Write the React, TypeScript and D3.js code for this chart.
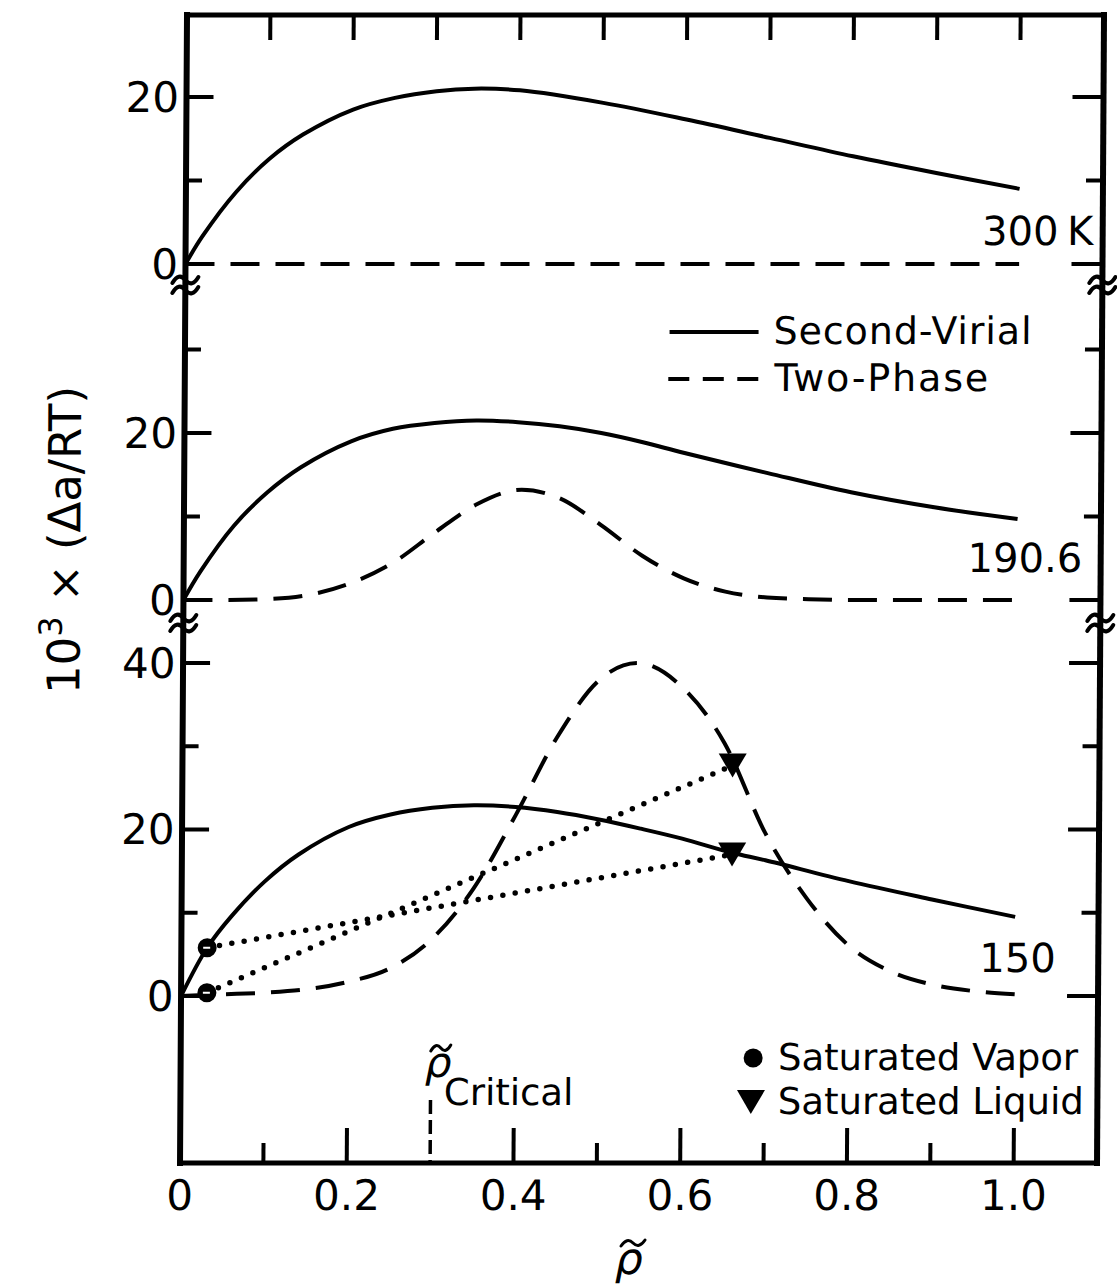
import React from "react";
import * as d3 from "d3";

const FONT = "'DejaVu Sans', sans-serif";

// ---- x axis ----
const xTopTicks = [0.1, 0.2, 0.3, 0.4, 0.5, 0.6, 0.7, 0.8, 0.9, 1.0];
const xBottomMinor = [0.1, 0.5, 0.7, 0.9];
const xBottomMajor = [0.2, 0.4, 0.6, 0.8, 1.0];
const xLabelValues = [0, 0.2, 0.4, 0.6, 0.8, 1.0];
const xLabelTexts = ["0", "0.2", "0.4", "0.6", "0.8", "1.0"];
const rhoCritical = 0.3;

// ---- 300 K ----
const rho300 = [0, 0.02, 0.06, 0.1, 0.14, 0.2, 0.25, 0.3, 0.345, 0.4, 0.5, 0.6, 0.7, 0.8, 0.9, 1.0];
const virial300 = [0, 3.3, 8.6, 12.6, 15.5, 18.5, 19.9, 20.7, 21.0, 20.8, 19.3, 17.3, 15.1, 12.9, 10.9, 9.0];
const twoPhase300Rho = [0, 1.0];
const twoPhase300 = [0, 0];

// ---- 190.6 K ----
const rho190 = [0, 0.02, 0.06, 0.1, 0.14, 0.2, 0.25, 0.3, 0.35, 0.4, 0.45, 0.5, 0.55, 0.6, 0.7, 0.8, 0.9, 1.0];
const virial190 = [0, 3.4, 8.9, 12.9, 15.9, 19.0, 20.5, 21.2, 21.5, 21.3, 20.8, 20.0, 18.9, 17.6, 15.2, 12.9, 11.1, 9.7];
const twoPhase190Rho = [0, 0.05, 0.1, 0.15, 0.2, 0.25, 0.3, 0.35, 0.405, 0.45, 0.5, 0.55, 0.6, 0.65, 0.7, 0.75, 0.8, 0.9, 1.0];
const twoPhase190 = [0, 0, 0.1, 0.6, 2.0, 4.4, 8.0, 11.4, 13.2, 12.2, 9.0, 5.3, 2.6, 1.0, 0.3, 0.1, 0, 0, 0];

// ---- 150 K ----
const rho150 = [0, 0.031, 0.06, 0.1, 0.14, 0.2, 0.25, 0.3, 0.35, 0.4, 0.45, 0.5, 0.55, 0.6, 0.66, 0.7, 0.8, 0.9, 1.0];
const virial150 = [0, 5.8, 9.6, 13.8, 17.0, 20.3, 21.8, 22.6, 22.9, 22.7, 22.1, 21.2, 20.1, 18.9, 17.2, 16.3, 13.8, 11.6, 9.5];
const twoPhase150Rho = [0, 0.05, 0.1, 0.15, 0.2, 0.25, 0.3, 0.35, 0.4, 0.45, 0.5, 0.545, 0.6, 0.65, 0.7, 0.75, 0.8, 0.85, 0.9, 0.95, 1.0];
const twoPhase150 = [0, 0.2, 0.4, 0.8, 1.7, 3.3, 6.8, 12.9, 21.7, 31.2, 38.0, 40.0, 37.0, 30.4, 19.5, 11.7, 6.1, 3.0, 1.4, 0.6, 0.2];

// saturated states at 150 K
const satVaporRho = [0.031, 0.031];
const satVaporVal = [5.8, 0.4];
const satLiquidRho = [0.66, 0.66];
const satLiquidVal = [17.0, 27.7];

// ---- y ticks per panel ----
const topTicks = [0, 10, 20];
const topLabels = [0, 20];
const midTicks = [0, 10, 20, 30];
const midLabels = [0, 20];
const botTicks = [0, 10, 20, 30, 40];
const botLabels = [0, 20, 40];

export default function App() {
  const x = d3.scaleLinear().domain([0, 1.1]).range([183.5, 1100.5]);
  const yTop = d3.scaleLinear().domain([0, 20]).range([264, 97]);
  const yMid = d3.scaleLinear().domain([0, 20]).range([600, 433]);
  const yBot = d3.scaleLinear().domain([0, 40]).range([996, 663]);
  const plotTop = 15;
  const plotBottom = 1163;
  const left = x(0);
  const right = x(1.1);

  const path = (
    xs: number[],
    vs: number[],
    ys: d3.ScaleLinear<number, number>,
    curve: d3.CurveFactory
  ) =>
    d3
      .line<[number, number]>()
      .x((d) => x(d[0]))
      .y((d) => ys(d[1]))
      .curve(curve)(d3.zip(xs, vs) as [number, number][]) || "";

  const smooth = d3.curveCatmullRom.alpha(0.5);
  const mono = d3.curveMonotoneX;

  const dash = "29,16";
  const curveW = 4;

  const yTicks = (ticks: number[], ys: d3.ScaleLinear<number, number>) =>
    ticks.map((t) => {
      const major = t % 20 === 0;
      return (
        <g key={"t" + t + ys(t)}>
          <line x1={left} x2={left + (major ? 27 : 16)} y1={ys(t)} y2={ys(t)} stroke="#000" strokeWidth={4} />
          <line x1={right} x2={right - (major ? 31 : 17)} y1={ys(t)} y2={ys(t)} stroke="#000" strokeWidth={4} />
        </g>
      );
    });

  const yLabels = (labels: number[], ys: d3.ScaleLinear<number, number>) =>
    labels.map((t) => (
      <text key={"l" + t + ys(t)} x={176} y={ys(t) + 15} textAnchor="end" fontSize={42} fontFamily={FONT}>
        {t}
      </text>
    ));

  const brk = (cx: number, cy: number, k: string) => (
    <g key={k} fill="none" stroke="#000" strokeWidth={4} strokeLinecap="round">
      <path d={`M${cx - 13},${cy - 2} Q${cx - 6.5},${cy - 13} ${cx},${cy - 5} T${cx + 13},${cy - 8}`} />
      <path d={`M${cx - 13},${cy + 8} Q${cx - 6.5},${cy - 3} ${cx},${cy + 5} T${cx + 13},${cy + 2}`} />
    </g>
  );

  const tri = (cx: number, cy: number, k: string) => (
    <path key={k} d={`M${cx - 14},${cy - 12} L${cx + 14},${cy - 12} L${cx},${cy + 12} Z`} fill="#000" />
  );

  const tilde = (x0: number, y0: number, w: number) =>
    `M${x0},${y0 + 3} Q${x0 + w * 0.25},${y0 - 6} ${x0 + w * 0.5},${y0} T${x0 + w},${y0 - 3}`;

  return (
    <svg
      width={1117}
      height={1286}
      style={{ position: "absolute", left: 0, top: 0, background: "#fff" }}
    >
      <rect width={1117} height={1286} fill="#fff" />
      <g transform="translate(3.6,0) skewX(-0.349)">
        {/* frame */}
        <g stroke="#000" strokeLinecap="square">
          <line x1={left} x2={right} y1={plotTop} y2={plotTop} strokeWidth={5} />
          <line x1={left} x2={right} y1={plotBottom} y2={plotBottom} strokeWidth={5} />
          <line x1={left} x2={left} y1={plotTop} y2={plotBottom} strokeWidth={6} />
          <line x1={right} x2={right} y1={plotTop} y2={plotBottom} strokeWidth={6} />
        </g>

        {/* x ticks */}
        {xTopTicks.map((t) => (
          <line key={"xt" + t} x1={x(t)} x2={x(t)} y1={plotTop} y2={plotTop + 25} stroke="#000" strokeWidth={4} />
        ))}
        {xBottomMinor.map((t) => (
          <line key={"xm" + t} x1={x(t)} x2={x(t)} y1={plotBottom} y2={plotBottom - 20} stroke="#000" strokeWidth={4} />
        ))}
        {xBottomMajor.map((t) => (
          <line key={"xM" + t} x1={x(t)} x2={x(t)} y1={plotBottom} y2={plotBottom - 35} stroke="#000" strokeWidth={4} />
        ))}
        {xLabelValues.map((v, i) => (
          <text key={"xl" + v} x={x(v)} y={1210} textAnchor="middle" fontSize={42} fontFamily={FONT}>
            {xLabelTexts[i]}
          </text>
        ))}

        {/* critical density marker */}
        <line
          x1={x(rhoCritical)}
          x2={x(rhoCritical)}
          y1={1100}
          y2={plotBottom}
          stroke="#000"
          strokeWidth={3.5}
          strokeDasharray="14,6"
        />
        <path d={tilde(x(rhoCritical), 1048, 20)} fill="none" stroke="#000" strokeWidth={3} strokeLinecap="round" />
        <text x={x(rhoCritical) - 6} y={1077} fontSize={42} fontStyle="italic" fontFamily={FONT}>
          ρ
        </text>
        <text x={447} y={1105} fontSize={37} fontFamily={FONT}>
          Critical
        </text>

        {/* y ticks and labels */}
        {yTicks(topTicks, yTop)}
        {yTicks(midTicks, yMid)}
        {yTicks(botTicks, yBot)}
        {yLabels(topLabels, yTop)}
        {yLabels(midLabels, yMid)}
        {yLabels(botLabels, yBot)}

        {/* axis breaks */}
        {brk(left, 285, "b1")}
        {brk(left, 623, "b2")}
        {brk(right, 285, "b3")}
        {brk(right, 623, "b4")}

        {/* curves */}
        <g fill="none" stroke="#000" strokeWidth={curveW} strokeLinejoin="round">
          <path d={path(rho300, virial300, yTop, smooth)} />
          <path d={path(twoPhase300Rho, twoPhase300, yTop, mono)} strokeDasharray={dash} />
          <path d={path(rho190, virial190, yMid, smooth)} />
          <path d={path(twoPhase190Rho, twoPhase190, yMid, mono)} strokeDasharray={dash} />
          <path d={path(rho150, virial150, yBot, smooth)} />
          <path d={path(twoPhase150Rho, twoPhase150, yBot, mono)} strokeDasharray={dash} />
        </g>

        {/* tie lines */}
        <g fill="none" stroke="#000" strokeWidth={5.5} strokeLinecap="round" strokeDasharray="0,12.5">
          {satVaporRho.map((r, i) => (
            <line
              key={"tie" + i}
              x1={x(r)}
              y1={yBot(satVaporVal[i])}
              x2={x(satLiquidRho[i])}
              y2={yBot(satLiquidVal[i])}
            />
          ))}
        </g>
        {satVaporRho.map((r, i) => (
          <g key={"sv" + i}>
            <circle cx={x(r)} cy={yBot(satVaporVal[i])} r={9.5} fill="#000" />
            <line
              x1={x(r) - 4}
              x2={x(r) + 3}
              y1={yBot(satVaporVal[i])}
              y2={yBot(satVaporVal[i])}
              stroke="#fff"
              strokeWidth={2}
            />
          </g>
        ))}
        {satLiquidRho.map((r, i) => tri(x(r), yBot(satLiquidVal[i]), "sl" + i))}

        {/* panel labels */}
        <text x={980} y={245} fontSize={40} fontFamily={FONT}>300</text>
        <text x={1065} y={245} fontSize={40} fontFamily={FONT}>K</text>
        <text x={1082} y={572} textAnchor="end" fontSize={40} fontFamily={FONT}>190.6</text>
        <text x={1058} y={972} textAnchor="end" fontSize={40} fontFamily={FONT}>150</text>

        {/* legend: line styles */}
        <line x1={668} x2={757} y1={332} y2={332} stroke="#000" strokeWidth={4} />
        <text x={772} y={344} fontSize={38} fontFamily={FONT} textLength={258} lengthAdjust="spacing">
          Second-Virial
        </text>
        <line x1={667} x2={757} y1={379} y2={379} stroke="#000" strokeWidth={4} strokeDasharray="21,13.5" />
        <text x={773} y={391} fontSize={38} fontFamily={FONT} textLength={214} lengthAdjust="spacing">
          Two-Phase
        </text>

        {/* legend: markers */}
        <circle cx={756} cy={1058} r={9.5} fill="#000" />
        <text x={781} y={1070} fontSize={37} fontFamily={FONT} textLength={300} lengthAdjust="spacing">
          Saturated Vapor
        </text>
        {tri(754, 1102, "legtri")}
        <text x={781} y={1114} fontSize={37} fontFamily={FONT} textLength={306} lengthAdjust="spacing">
          Saturated Liquid
        </text>

        {/* axis titles */}
        <path d={tilde(625, 1243, 24)} fill="none" stroke="#000" strokeWidth={3} strokeLinecap="round" />
        <text x={619} y={1274} fontSize={44} fontStyle="italic" fontFamily={FONT}>
          ρ
        </text>
        <text transform="translate(80,540) rotate(-90)" textAnchor="middle" fontSize={45} fontFamily={FONT}>
          10
          <tspan fontSize={32} dy={-18}>3</tspan>
          <tspan dy={18}> × (Δa/RT)</tspan>
        </text>
      </g>
    </svg>
  );
}
